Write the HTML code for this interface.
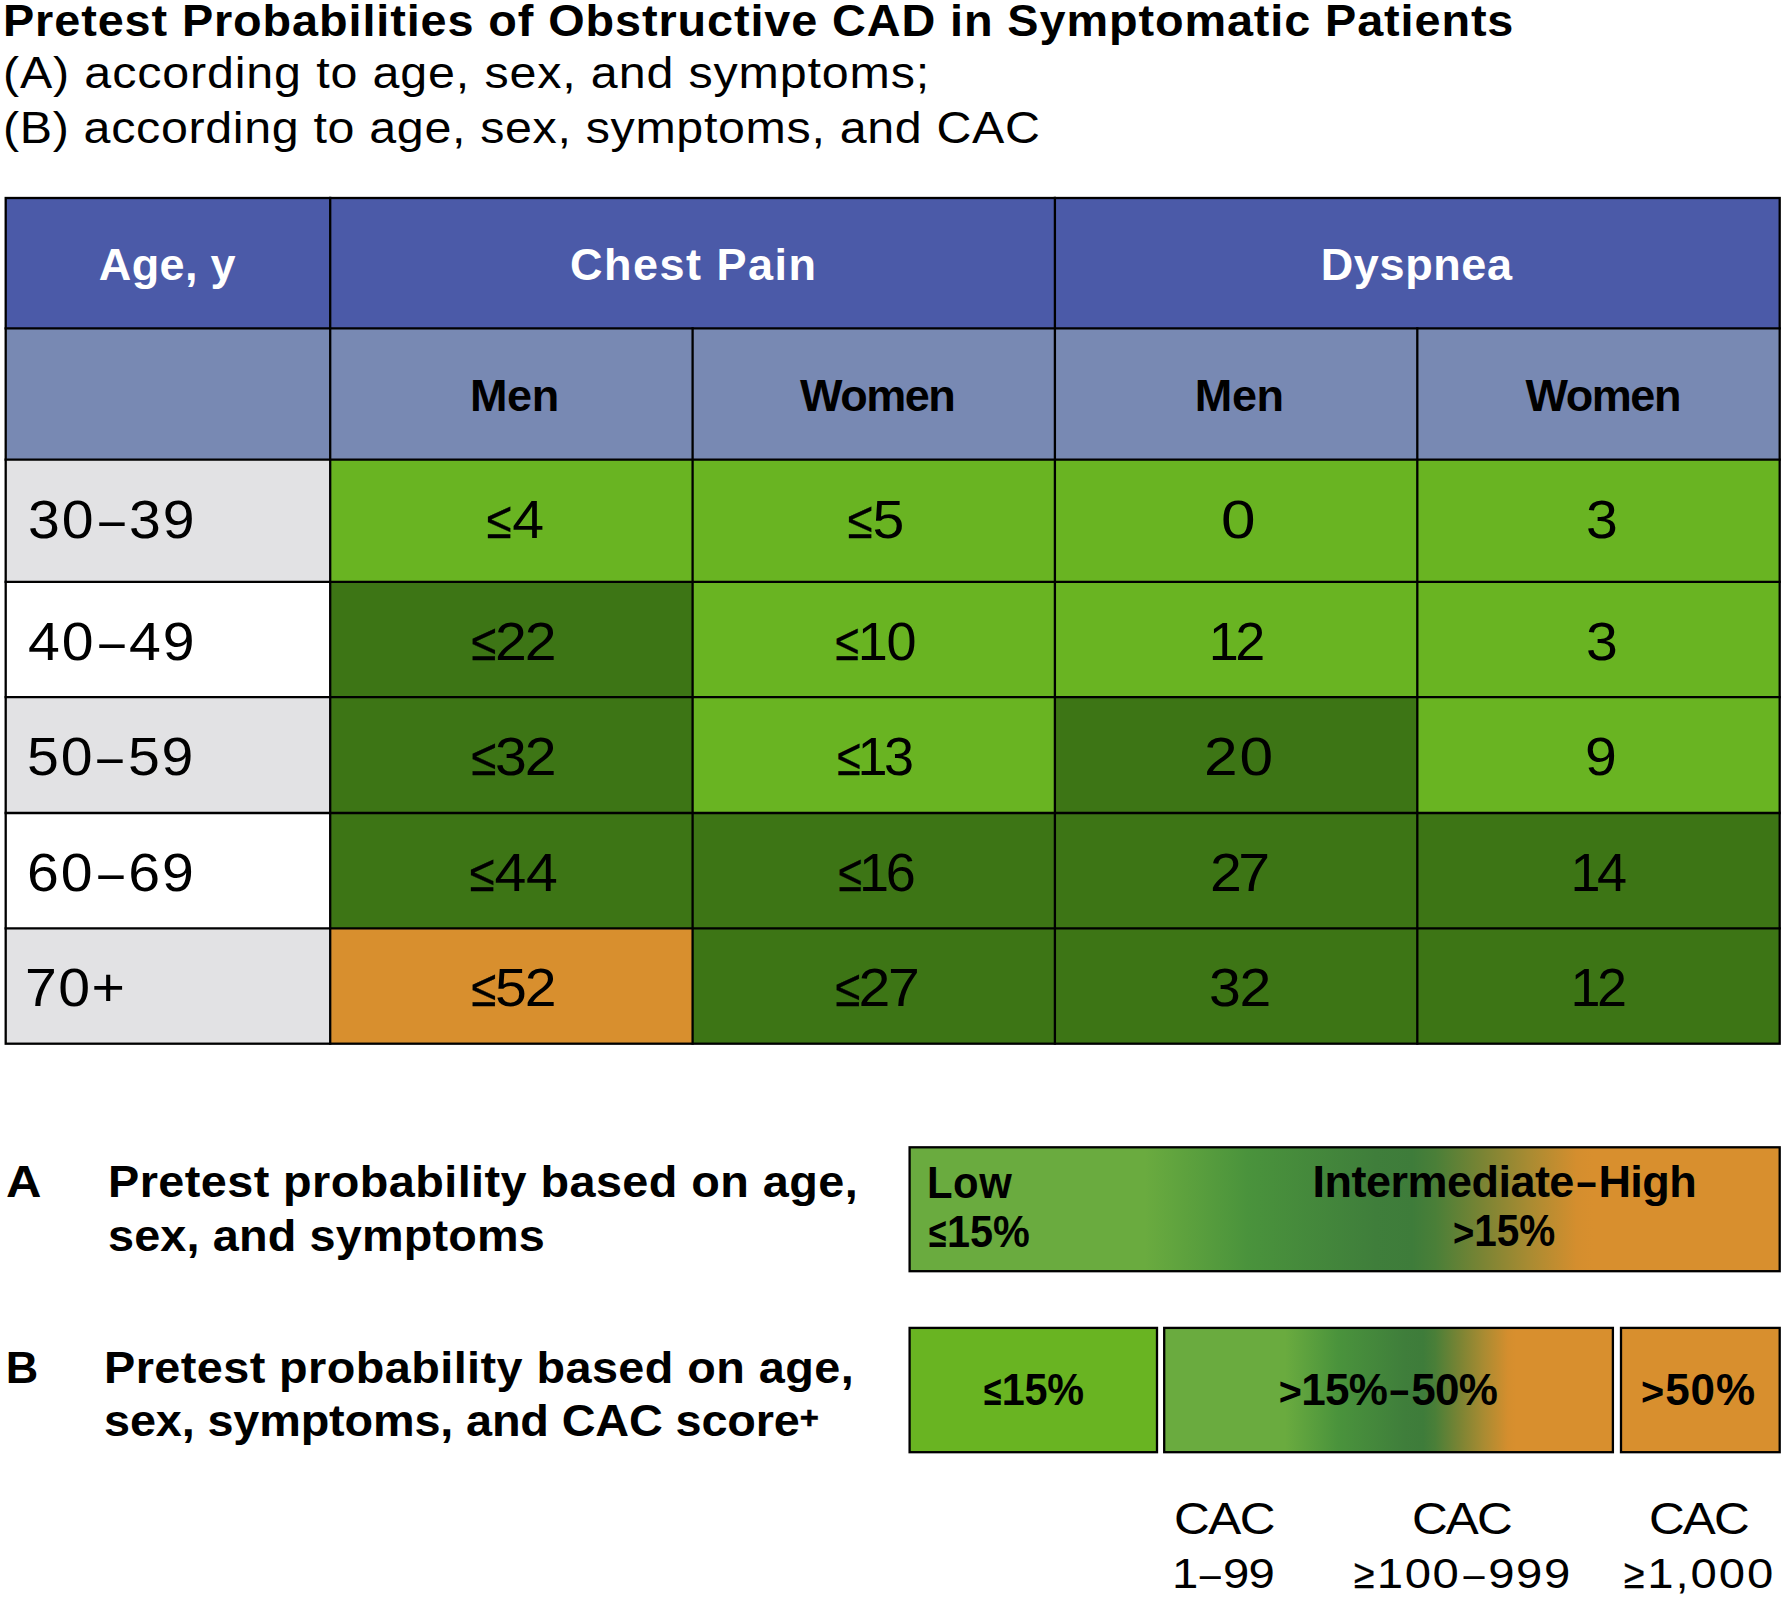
<!DOCTYPE html>
<html lang="en"><head><meta charset="utf-8"><title>Pretest Probabilities of Obstructive CAD in Symptomatic Patients</title>
<style>
html,body{margin:0;padding:0;background:#fff}
body{width:1785px;height:1599px;position:relative;overflow:hidden;font-family:"Liberation Sans", sans-serif;color:#000}
#page{position:absolute;left:0;top:0;width:1785px;height:1599px;overflow:hidden}
.tx{position:absolute;white-space:nowrap;margin:0;padding:0;font-weight:normal;transform-origin:0 0;display:block}
.tx.b{font-weight:bold}
table.grid,table.grid thead,table.grid tbody,table.grid tr{display:block;margin:0;padding:0;border:0}
.box{position:absolute;display:block;margin:0;padding:0;border:0;font-weight:normal;text-align:left}
.rel{display:inline-block;font-size:.96em;transform:scaleX(.83);margin:0 -.04em;-webkit-text-stroke:.3px #000}
.b .rel{font-size:.93em;transform:scaleX(.84);-webkit-text-stroke:0}
.gt{font-size:.9em}
.nd{display:inline-block;transform:scaleX(.8)}
.sup{font-size:.7em;position:relative;top:-0.25em;letter-spacing:0;-webkit-text-stroke:.5px #000}
svg.lines{position:absolute;left:0;top:0;width:1785px;height:1599px;pointer-events:none}

</style></head><body><div id="page">
<header>
<h1 class="tx b" id="t1" style="left:2.80px;top:-1.70px;font-size:45px;line-height:45px;letter-spacing:0.865px;transform:scaleX(1.04);">Pretest Probabilities of Obstructive CAD in Symptomatic Patients</h1>
<p class="tx" id="t2" style="left:2.70px;top:50.80px;font-size:44px;line-height:44px;letter-spacing:0.772px;transform:scaleX(1.1);">(A) according to age, sex, and symptoms;</p>
<p class="tx" id="t3" style="left:3.00px;top:105.80px;font-size:44px;line-height:44px;letter-spacing:0.597px;transform:scaleX(1.1);">(B) according to age, sex, symptoms, and CAC</p>
</header>
<table class="grid"><thead>
<tr>
<th class="box" id="c0_0" style="left:6px;top:198px;width:324px;height:130px;background:#4b5aa8"><span class="tx b" id="h_age" style="left:92.80px;top:44.30px;font-size:45px;line-height:45px;letter-spacing:0.360px;color:#fff;">Age, y</span></th>
<th class="box" id="c0_1" colspan="2" style="left:330px;top:198px;width:725px;height:130px;background:#4b5aa8"><span class="tx b" id="h_cp" style="left:240.00px;top:44.30px;font-size:45px;line-height:45px;letter-spacing:1.500px;color:#fff;">Chest Pain</span></th>
<th class="box" id="c0_2" colspan="2" style="left:1055px;top:198px;width:725px;height:130px;background:#4b5aa8"><span class="tx b" id="h_dy" style="left:265.70px;top:44.30px;font-size:45px;line-height:45px;letter-spacing:0.630px;color:#fff;">Dyspnea</span></th>
</tr>
<tr>
<th class="box" id="c1_0" style="left:6px;top:328px;width:324px;height:132px;background:#7889b3"></th>
<th class="box" id="c1_1" style="left:330px;top:328px;width:363px;height:132px;background:#7889b3"><span class="tx b" id="s_m1" style="left:139.90px;top:45.30px;font-size:45px;line-height:45px;letter-spacing:-0.360px;">Men</span></th>
<th class="box" id="c1_2" style="left:693px;top:328px;width:362px;height:132px;background:#7889b3"><span class="tx b" id="s_w1" style="left:107.10px;top:45.30px;font-size:45px;line-height:45px;letter-spacing:-1.485px;">Women</span></th>
<th class="box" id="c1_3" style="left:1055px;top:328px;width:362px;height:132px;background:#7889b3"><span class="tx b" id="s_m2" style="left:139.80px;top:45.30px;font-size:45px;line-height:45px;letter-spacing:-0.360px;">Men</span></th>
<th class="box" id="c1_4" style="left:1417px;top:328px;width:363px;height:132px;background:#7889b3"><span class="tx b" id="s_w2" style="left:108.40px;top:45.30px;font-size:45px;line-height:45px;letter-spacing:-1.395px;">Women</span></th>
</tr>
</thead><tbody>
<tr>
<th class="box" id="c2_0" style="left:6px;top:460px;width:324px;height:122px;background:#e2e2e4"><span class="tx" id="l0" style="left:21.50px;top:32.30px;font-size:54px;line-height:54px;letter-spacing:1.741px;transform:scaleX(1.06);">30<span class="nd">–</span>39</span></th>
<td class="box" id="c2_1" style="left:330px;top:460px;width:363px;height:122px;background:#69b422"><span class="tx" id="d0_0" style="left:155.90px;top:32.30px;font-size:54px;line-height:54px;letter-spacing:0.340px;transform:scaleX(1.06);"><span class="rel">≤</span>4</span></td>
<td class="box" id="c2_2" style="left:693px;top:460px;width:362px;height:122px;background:#69b422"><span class="tx" id="d0_1" style="left:153.70px;top:32.30px;font-size:54px;line-height:54px;letter-spacing:-0.170px;transform:scaleX(1.06);"><span class="rel">≤</span>5</span></td>
<td class="box" id="c2_3" style="left:1055px;top:460px;width:362px;height:122px;background:#69b422"><span class="tx" id="d0_2" style="left:165.90px;top:32.30px;font-size:54px;line-height:54px;transform:scaleX(1.15);">0</span></td>
<td class="box" id="c2_4" style="left:1417px;top:460px;width:363px;height:122px;background:#69b422"><span class="tx" id="d0_3" style="left:168.70px;top:32.30px;font-size:54px;line-height:54px;transform:scaleX(1.06);">3</span></td>
</tr>
<tr>
<th class="box" id="c3_0" style="left:6px;top:582px;width:324px;height:115px;background:#ffffff"><span class="tx" id="l1" style="left:21.60px;top:32.30px;font-size:54px;line-height:54px;letter-spacing:1.741px;transform:scaleX(1.06);">40<span class="nd">–</span>49</span></th>
<td class="box" id="c3_1" style="left:330px;top:582px;width:363px;height:115px;background:#3d7515"><span class="tx" id="d1_0" style="left:141.00px;top:32.30px;font-size:54px;line-height:54px;letter-spacing:-1.783px;transform:scaleX(1.06);"><span class="rel">≤</span>22</span></td>
<td class="box" id="c3_2" style="left:693px;top:582px;width:362px;height:115px;background:#69b422"><span class="tx" id="d1_1" style="left:141.80px;top:32.30px;font-size:54px;line-height:54px;letter-spacing:-1.350px;"><span class="rel">≤</span>10</span></td>
<td class="box" id="c3_3" style="left:1055px;top:582px;width:362px;height:115px;background:#69b422"><span class="tx" id="d1_2" style="left:153.70px;top:32.30px;font-size:54px;line-height:54px;letter-spacing:-3.500px;">12</span></td>
<td class="box" id="c3_4" style="left:1417px;top:582px;width:363px;height:115px;background:#69b422"><span class="tx" id="d1_3" style="left:168.70px;top:32.30px;font-size:54px;line-height:54px;transform:scaleX(1.06);">3</span></td>
</tr>
<tr>
<th class="box" id="c4_0" style="left:6px;top:697px;width:324px;height:116px;background:#e2e2e4"><span class="tx" id="l2" style="left:21.40px;top:32.30px;font-size:54px;line-height:54px;letter-spacing:1.698px;transform:scaleX(1.06);">50<span class="nd">–</span>59</span></th>
<td class="box" id="c4_1" style="left:330px;top:697px;width:363px;height:116px;background:#3d7515"><span class="tx" id="d2_0" style="left:141.00px;top:32.30px;font-size:54px;line-height:54px;letter-spacing:-1.783px;transform:scaleX(1.06);"><span class="rel">≤</span>32</span></td>
<td class="box" id="c4_2" style="left:693px;top:697px;width:362px;height:116px;background:#69b422"><span class="tx" id="d2_1" style="left:143.60px;top:32.30px;font-size:54px;line-height:54px;letter-spacing:-3.500px;"><span class="rel">≤</span>13</span></td>
<td class="box" id="c4_3" style="left:1055px;top:697px;width:362px;height:116px;background:#3d7515"><span class="tx" id="d2_2" style="left:148.80px;top:32.30px;font-size:54px;line-height:54px;letter-spacing:1.607px;transform:scaleX(1.12);">20</span></td>
<td class="box" id="c4_4" style="left:1417px;top:697px;width:363px;height:116px;background:#69b422"><span class="tx" id="d2_3" style="left:167.80px;top:32.30px;font-size:54px;line-height:54px;transform:scaleX(1.06);">9</span></td>
</tr>
<tr>
<th class="box" id="c5_0" style="left:6px;top:813px;width:324px;height:115px;background:#ffffff"><span class="tx" id="l3" style="left:20.70px;top:32.30px;font-size:54px;line-height:54px;letter-spacing:1.825px;transform:scaleX(1.06);">60<span class="nd">–</span>69</span></th>
<td class="box" id="c5_1" style="left:330px;top:813px;width:363px;height:115px;background:#3d7515"><span class="tx" id="d3_0" style="left:138.60px;top:32.30px;font-size:54px;line-height:54px;letter-spacing:-0.255px;transform:scaleX(1.06);"><span class="rel">≤</span>44</span></td>
<td class="box" id="c5_2" style="left:693px;top:813px;width:362px;height:115px;background:#3d7515"><span class="tx" id="d3_1" style="left:145.00px;top:32.30px;font-size:54px;line-height:54px;letter-spacing:-3.320px;"><span class="rel">≤</span>16</span></td>
<td class="box" id="c5_3" style="left:1055px;top:813px;width:362px;height:115px;background:#3d7515"><span class="tx" id="d3_2" style="left:154.90px;top:32.30px;font-size:54px;line-height:54px;letter-spacing:-3.396px;transform:scaleX(1.06);">27</span></td>
<td class="box" id="c5_4" style="left:1417px;top:813px;width:363px;height:115px;background:#3d7515"><span class="tx" id="d3_3" style="left:153.50px;top:32.30px;font-size:54px;line-height:54px;letter-spacing:-3.500px;">14</span></td>
</tr>
<tr>
<th class="box" id="c6_0" style="left:6px;top:928px;width:324px;height:116px;background:#e2e2e4"><span class="tx" id="l4" style="left:18.80px;top:32.30px;font-size:54px;line-height:54px;letter-spacing:1.358px;transform:scaleX(1.06);">70+</span></th>
<td class="box" id="c6_1" style="left:330px;top:928px;width:363px;height:116px;background:#d88f2e"><span class="tx" id="d4_0" style="left:141.00px;top:32.30px;font-size:54px;line-height:54px;letter-spacing:-1.783px;transform:scaleX(1.06);"><span class="rel">≤</span>52</span></td>
<td class="box" id="c6_2" style="left:693px;top:928px;width:362px;height:116px;background:#3d7515"><span class="tx" id="d4_1" style="left:141.80px;top:32.30px;font-size:54px;line-height:54px;letter-spacing:-2.123px;transform:scaleX(1.06);"><span class="rel">≤</span>27</span></td>
<td class="box" id="c6_3" style="left:1055px;top:928px;width:362px;height:116px;background:#3d7515"><span class="tx" id="d4_2" style="left:153.70px;top:32.30px;font-size:54px;line-height:54px;letter-spacing:-1.189px;transform:scaleX(1.06);">32</span></td>
<td class="box" id="c6_4" style="left:1417px;top:928px;width:363px;height:116px;background:#3d7515"><span class="tx" id="d4_3" style="left:153.40px;top:32.30px;font-size:54px;line-height:54px;letter-spacing:-3.500px;">12</span></td>
</tr>
</tbody></table>
<section class="legend">
<div class="lrow"><span class="tx b" id="la" style="left:5.50px;top:1159.30px;font-size:45px;line-height:45px;transform:scaleX(1.09);">A</span><span class="tx b" id="la1" style="left:107.90px;top:1159.30px;font-size:45px;line-height:45px;letter-spacing:0.411px;transform:scaleX(1.04);">Pretest probability based on age,</span><span class="tx b" id="la2" style="left:108.20px;top:1213.30px;font-size:45px;line-height:45px;letter-spacing:0.141px;transform:scaleX(1.04);">sex, and symptoms</span><div class="box" id="barA" style="left:910px;top:1147px;width:870px;height:124px;background:linear-gradient(90deg,#6aab3f 0%,#6aab3f 27%,#4a933c 38.8%,#3f7e3b 53.6%,#3e7c3a 57.7%,#4a7f38 60.4%,#7a8434 65.8%,#a98b32 71.2%,#d48e2e 76.6%,#d88f2e 78.5%,#d88f2e 100%)"><span class="tx b" id="ba1" style="left:16.90px;top:13.30px;font-size:45px;line-height:45px;letter-spacing:0.581px;transform:scaleX(0.93);">Low</span><span class="tx b" id="ba2" style="left:18.50px;top:62.80px;font-size:44px;line-height:44px;transform:scaleX(0.94);"><span class="rel">≤</span>15%</span><span class="tx b" id="ba3" style="left:402.50px;top:12.30px;font-size:45px;line-height:45px;letter-spacing:-0.518px;">Intermediate<span class="nd">–</span>High</span><span class="tx b" id="ba4" style="left:542.70px;top:61.80px;font-size:44px;line-height:44px;transform:scaleX(0.92);"><span class="gt">&gt;</span>15%</span></div></div>
<div class="lrow"><span class="tx b" id="lb" style="left:5.70px;top:1345.30px;font-size:45px;line-height:45px;">B</span><span class="tx b" id="lb1" style="left:104.30px;top:1345.30px;font-size:45px;line-height:45px;letter-spacing:0.411px;transform:scaleX(1.04);">Pretest probability based on age,</span><span class="tx b" id="lb2" style="left:104.10px;top:1398.30px;font-size:45px;line-height:45px;letter-spacing:-0.136px;transform:scaleX(1.04);">sex, symptoms, and CAC score<span class="sup">+</span></span><div class="box" id="barB1" style="left:910px;top:1328px;width:247px;height:124px;background:#69b422"><span class="tx b" id="bb1" style="left:73.90px;top:39.80px;font-size:44px;line-height:44px;letter-spacing:-0.255px;transform:scaleX(0.94);"><span class="rel">≤</span>15%</span></div><div class="box" id="barB2" style="left:1164px;top:1328px;width:449px;height:124px;background:linear-gradient(90deg,#6aab3f 0%,#6aab3f 27%,#4a933c 38.8%,#3f7e3b 53.6%,#3e7c3a 57.7%,#4a7f38 60.4%,#7a8434 65.8%,#a98b32 71.2%,#d48e2e 76.6%,#d88f2e 78.5%,#d88f2e 100%)"><span class="tx b" id="bb2" style="left:114.80px;top:39.80px;font-size:44px;line-height:44px;letter-spacing:-0.669px;"><span class="gt">&gt;</span>15%<span class="nd">–</span>50%</span></div><div class="box" id="barB3" style="left:1621px;top:1328px;width:159px;height:124px;background:#d88f2e"><span class="tx b" id="bb3" style="left:20.10px;top:39.80px;font-size:44px;line-height:44px;letter-spacing:0.960px;"><span class="gt">&gt;</span>50%</span></div></div>
<div class="keys"><span class="tx" id="k1a" style="left:1173.50px;top:1496.30px;font-size:45px;line-height:45px;letter-spacing:-1.391px;transform:scaleX(1.1);">CAC</span><span class="tx" id="k1b" style="left:1171.90px;top:1551.80px;font-size:43px;line-height:43px;letter-spacing:-0.709px;transform:scaleX(1.1);">1<span class="nd">–</span>99</span><span class="tx" id="k2a" style="left:1412.00px;top:1496.30px;font-size:45px;line-height:45px;letter-spacing:-1.718px;transform:scaleX(1.1);">CAC</span><span class="tx" id="k2b" style="left:1354.20px;top:1551.80px;font-size:43px;line-height:43px;letter-spacing:1.403px;transform:scaleX(1.1);"><span class="rel">≥</span>100<span class="nd">–</span>999</span><span class="tx" id="k3a" style="left:1649.10px;top:1496.30px;font-size:45px;line-height:45px;letter-spacing:-1.718px;transform:scaleX(1.1);">CAC</span><span class="tx" id="k3b" style="left:1624.30px;top:1551.80px;font-size:43px;line-height:43px;letter-spacing:1.735px;transform:scaleX(1.1);"><span class="rel">≥</span>1,000</span></div>
</section>
<svg class="lines" viewBox="0 0 1785 1599"><g stroke="#000" stroke-width="2.3" fill="none" stroke-linecap="square"><rect x="5.7" y="198.0" width="1774.0" height="845.7"/><line x1="5.7" y1="328.4" x2="1779.7" y2="328.4"/><line x1="5.7" y1="459.6" x2="1779.7" y2="459.6"/><line x1="5.7" y1="581.8" x2="1779.7" y2="581.8"/><line x1="5.7" y1="697.2" x2="1779.7" y2="697.2"/><line x1="5.7" y1="813.0" x2="1779.7" y2="813.0"/><line x1="5.7" y1="928.4" x2="1779.7" y2="928.4"/><line x1="330.2" y1="198.0" x2="330.2" y2="1043.7"/><line x1="1054.9" y1="198.0" x2="1054.9" y2="1043.7"/><line x1="692.6" y1="328.4" x2="692.6" y2="1043.7"/><line x1="1417.3" y1="328.4" x2="1417.3" y2="1043.7"/></g><g stroke="#000" stroke-width="2.3" fill="none"><rect x="909.6" y="1147.3" width="870.1" height="123.9"/><rect x="909.6" y="1327.9" width="247.4" height="124.3"/><rect x="1164.2" y="1327.9" width="448.7" height="124.3"/><rect x="1621.0" y="1327.9" width="158.7" height="124.3"/></g></svg>
</div></body></html>
